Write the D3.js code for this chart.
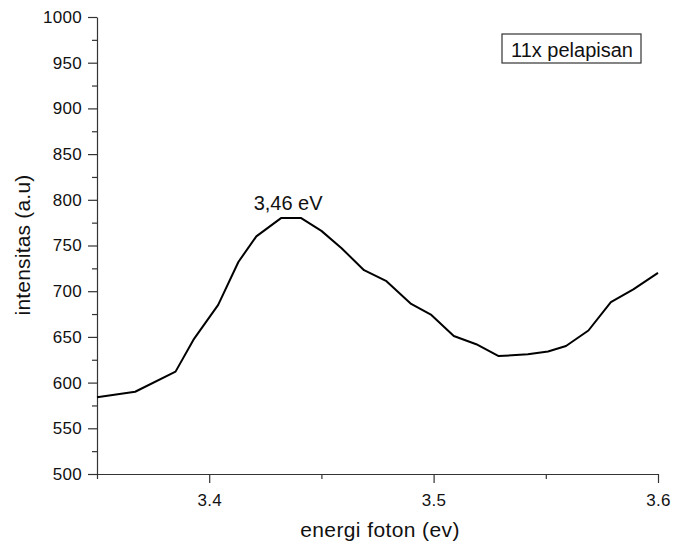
<!DOCTYPE html>
<html>
<head>
  <meta charset="utf-8">
  <script src="https://d3js.org/d3.v7.min.js"></script>
  <style>
    body { margin: 0; background: #fff; }
    text { font-family: "Liberation Sans", Arial, sans-serif; fill: #111; }
  </style>
</head>
<body>
  <div id="chart"></div>
  <script>
    // data
    var energy = [3.350, 3.367, 3.385, 3.393, 3.404, 3.413, 3.421, 3.432, 3.441, 3.450,
                  3.459, 3.469, 3.479, 3.490, 3.499, 3.509, 3.519, 3.529, 3.542, 3.551,
                  3.559, 3.569, 3.579, 3.589, 3.600];
    var intensity = [584, 590, 612, 647, 685, 732, 760, 780, 780, 766,
                     747, 723, 711, 686, 674, 651, 642, 629, 631, 634,
                     640, 657, 688, 702, 720];
    var xTicks = [3.4, 3.5, 3.6];
    var xMinor = [3.35, 3.45, 3.55];
    var yTicks = [500, 550, 600, 650, 700, 750, 800, 850, 900, 950, 1000];
    var yMinor = [525, 575, 625, 675, 725, 775, 825, 875, 925, 975];
    var peakLabel = { x: 3.4365, y: 780, text: "3,46 eV" };
    var legendText = "11x pelapisan";

    var W = 673, H = 545;
    var margin = { top: 17, right: 15, bottom: 71, left: 97 };
    var width = W - margin.left - margin.right;
    var height = H - margin.top - margin.bottom;

    var svg = d3.select("#chart").append("svg")
      .attr("width", W).attr("height", H);
    var g = svg.append("g")
      .attr("transform", "translate(" + margin.left + "," + margin.top + ")");

    var x = d3.scaleLinear().domain([3.35, 3.6]).range([0, width]);
    var y = d3.scaleLinear().domain([500, 1000]).range([height, 0]);

    // minor ticks
    g.append("g")
      .attr("transform", "translate(0," + height + ")")
      .call(d3.axisBottom(x).tickValues(xMinor).tickSize(5).tickFormat(""))
      .call(a => a.select(".domain").remove());
    g.append("g")
      .call(d3.axisLeft(y).tickValues(yMinor).tickSize(5).tickFormat(""))
      .call(a => a.select(".domain").remove());

    // major axes
    g.append("g")
      .attr("transform", "translate(0," + height + ")")
      .call(d3.axisBottom(x).tickValues(xTicks).tickSize(9).tickSizeOuter(0).tickPadding(11)
        .tickFormat(d3.format(".1f")));
    g.append("g")
      .call(d3.axisLeft(y).tickValues(yTicks).tickSize(9).tickSizeOuter(0).tickPadding(6)
        .tickFormat(d3.format("d")));

    g.selectAll(".domain").attr("stroke", "#333").attr("stroke-width", 1.2);
    g.selectAll(".tick line").attr("stroke", "#333").attr("stroke-width", 1.2);
    g.selectAll(".tick text").style("font-size", "17px").style("fill", "#111")
      .style("letter-spacing", "0.3px")
      .style("font-family", "'Liberation Sans', Arial, sans-serif");

    // line
    var pts = energy.map(function (d, i) { return [d, intensity[i]]; });
    g.append("path")
      .datum(pts)
      .attr("fill", "none")
      .attr("stroke", "#000")
      .attr("stroke-width", 2)
      .attr("stroke-linejoin", "round")
      .attr("d", d3.line().x(d => x(d[0])).y(d => y(d[1])));

    // peak annotation
    g.append("text")
      .attr("x", x(peakLabel.x) - 3)
      .attr("y", y(peakLabel.y) - 8)
      .attr("text-anchor", "middle")
      .style("font-size", "20px")
      .text(peakLabel.text);

    // legend box
    var lg = svg.append("g").attr("transform", "translate(502,34)");
    lg.append("rect")
      .attr("width", 139).attr("height", 29)
      .attr("fill", "#fff").attr("stroke", "#333").attr("stroke-width", 1.2);
    lg.append("text")
      .attr("x", 70).attr("y", 23)
      .attr("text-anchor", "middle")
      .style("font-size", "20px")
      .text(legendText);

    // axis titles
    svg.append("text")
      .attr("x", 380)
      .attr("y", 537)
      .attr("text-anchor", "middle")
      .style("font-size", "21px")
      .style("letter-spacing", "0.4px")
      .text("energi foton (ev)");
    svg.append("text")
      .attr("transform", "translate(30,245) rotate(-90)")
      .attr("text-anchor", "middle")
      .style("font-size", "21px")
      .style("letter-spacing", "0.2px")
      .text("intensitas (a.u)");
  </script>
</body>
</html>
